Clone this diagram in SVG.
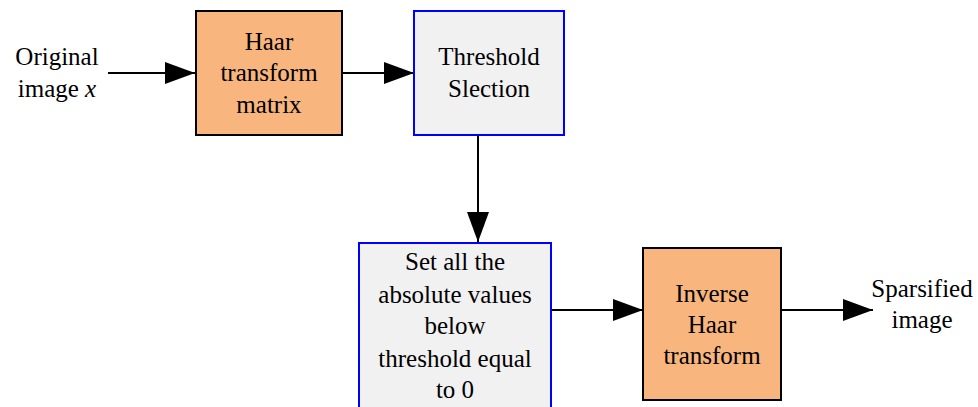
<svg xmlns="http://www.w3.org/2000/svg" width="978" height="407" viewBox="0 0 978 407">
  <style>
    .lbl { font-family: 'Liberation Serif', 'DejaVu Serif', serif; font-size: 25px; fill: #000; text-anchor: middle; }
    .proc { fill: #F8B57E; stroke: #000; stroke-width: 2; }
    .sel { fill: #F1F1F1; stroke: #0000FF; stroke-width: 2; }
    .edge { stroke: #000; stroke-width: 2; fill: none; }
  </style>
  <defs>
    <marker id="arrow" markerUnits="userSpaceOnUse" markerWidth="30" markerHeight="22" refX="30" refY="11" orient="auto">
      <path d="M0,0 L30,11 L0,22 Z" fill="#000"/>
    </marker>
  </defs>
  <rect width="978" height="407" fill="#fff"/>

  <g id="connectors">
    <line class="edge" x1="108" y1="73" x2="195" y2="73" marker-end="url(#arrow)"/>
    <line class="edge" x1="343" y1="73" x2="414" y2="73" marker-end="url(#arrow)"/>
    <line class="edge" x1="478" y1="135" x2="478" y2="242" marker-end="url(#arrow)"/>
    <line class="edge" x1="551" y1="310" x2="643" y2="310" marker-end="url(#arrow)"/>
    <line class="edge" x1="781" y1="310" x2="873" y2="310" marker-end="url(#arrow)"/>
  </g>

  <g id="input">
    <text class="lbl" x="57" y="65">Original</text>
    <text class="lbl" x="57" y="97">image <tspan font-style="italic">x</tspan></text>
  </g>

  <g id="haar">
    <rect class="proc" x="196" y="11" width="146" height="124"/>
    <text class="lbl" x="269" y="49.5">Haar</text>
    <text class="lbl" x="269" y="81">transform</text>
    <text class="lbl" x="269" y="112.5">matrix</text>
  </g>

  <g id="threshold">
    <rect class="sel" x="414" y="11" width="150" height="124"/>
    <text class="lbl" x="489" y="65">Threshold</text>
    <text class="lbl" x="489" y="97">Slection</text>
  </g>

  <g id="setzero">
    <rect class="sel" x="359" y="243" width="192" height="180"/>
    <text class="lbl" x="455" y="270">Set all the</text>
    <text class="lbl" x="455" y="303">absolute values</text>
    <text class="lbl" x="455" y="334">below</text>
    <text class="lbl" x="455" y="367">threshold equal</text>
    <text class="lbl" x="455" y="398">to 0</text>
  </g>

  <g id="inverse">
    <rect class="proc" x="643" y="248" width="138" height="152"/>
    <text class="lbl" x="712" y="302">Inverse</text>
    <text class="lbl" x="712" y="333">Haar</text>
    <text class="lbl" x="712" y="364">transform</text>
  </g>

  <g id="output">
    <text class="lbl" x="922" y="297">Sparsified</text>
    <text class="lbl" x="922" y="328">image</text>
  </g>
</svg>
